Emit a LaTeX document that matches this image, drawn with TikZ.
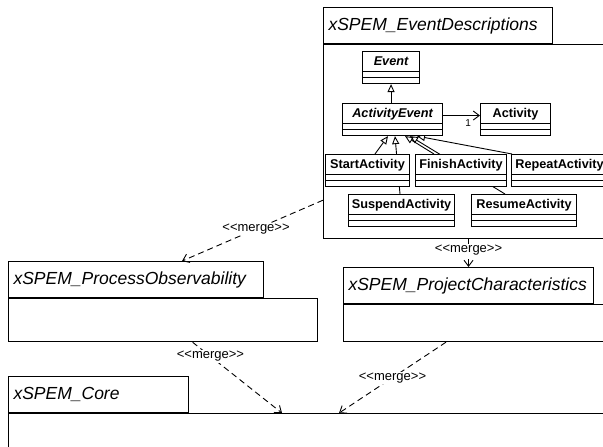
\documentclass[tikz,border=0pt]{standalone}
\usepackage{fontspec}
\setmainfont{Liberation Sans}
\usetikzlibrary{arrows.meta, positioning, calc, backgrounds}

\newcommand{\mergetag}{<\kern0pt<merge>\kern0pt>}

\begin{document}
\begin{tikzpicture}[
    x=1pt, y=-1pt,
    pkgtab/.style={rectangle, draw=black, line width=1.1pt, anchor=north west, minimum height=36pt, inner xsep=5pt, inner ysep=0pt, text width=#1, align=left, font=\fontsize{17.5}{20}\selectfont\itshape},
    pkgbody/.style={rectangle, draw=black, line width=1.1pt, anchor=north west},
    umlclass/.style={rectangle, draw=black, line width=1.1pt, fill=white, anchor=north west, inner sep=0pt, minimum height=32pt, text height=14pt, text depth=18pt, font=\fontsize{12.7}{15}\selectfont\bfseries,
        path picture={
            \draw[line width=1.1pt] ([yshift=6pt]path picture bounding box.south west) -- ([yshift=6pt]path picture bounding box.south east);
            \draw[line width=1.1pt] ([yshift=12pt]path picture bounding box.south west) -- ([yshift=12pt]path picture bounding box.south east);
        }},
    abstract/.style={font=\fontsize{12.7}{15}\selectfont\bfseries\itshape},
    inherit/.style={line width=0.9pt, -{Triangle[open, length=8pt, width=7pt]}},
    assoc/.style={line width=0.9pt, -{Straight Barb[length=6pt, width=9pt]}},
    merge/.style={line width=0.9pt, dash pattern=on 6pt off 4pt, -{Straight Barb[length=6pt, width=9pt]}},
    stereo/.style={fill=white, inner sep=1pt, font=\fontsize{13}{15}\selectfont}
]
\useasboundingbox (0,0) rectangle (603,447);
\clip (0,0) rectangle (603,447);

% Event descriptions package
\node (evtab) [pkgtab=219pt] at (323,7) {xSPEM\_EventDescriptions};
\node (evbody) [pkgbody, minimum width=300pt, minimum height=194pt] at (evtab.south west) {};

\node (event) [umlclass, abstract, minimum width=57pt] at (362,51) {Event};
\node (actev) [umlclass, abstract, minimum width=100pt] at (342,103) {ActivityEvent};
\node (activity) [umlclass, minimum width=70pt] at (480,103) {Activity};
\node (startact) [umlclass, minimum width=84pt] at (325,154) {StartActivity};
\node (finishact) [umlclass, minimum width=91pt] at (415,154) {FinishActivity};
\node (repeatact) [umlclass, minimum width=96pt] at (511,154) {RepeatActivity};
\node (suspact) [umlclass, minimum width=106pt] at (348,194) {SuspendActivity};
\node (resumeact) [umlclass, minimum width=105pt] at (471,194) {ResumeActivity};

% Other packages
\node (obstab) [pkgtab=245pt] at (8,261) {xSPEM\_ProcessObservability};
\node (obsbody) [pkgbody, minimum width=309pt, minimum height=43pt] at (obstab.south west) {};
\node (chartab) [pkgtab=240pt] at (343,267) {xSPEM\_ProjectCharacteristics};
\node (charbody) [pkgbody, minimum width=280pt, minimum height=37pt] at (chartab.south west) {};
\node (coretab) [pkgtab=170pt] at (8,376) {xSPEM\_Core};
\node (corebody) [pkgbody, minimum width=610pt, minimum height=40pt] at (coretab.south west) {};

% Generalizations
\begin{scope}[on background layer]
\draw [inherit] (event.south |- actev.north) -- (event.south);
\draw [inherit] ([xshift=50pt]startact.north west) -- ([xshift=46pt]actev.south west);
\draw [inherit] ([xshift=52pt]suspact.north west) -- ([xshift=53pt]actev.south west);
\draw [inherit] ([xshift=19pt]finishact.north west) -- ([xshift=63pt]actev.south west);
\draw [inherit] ([xshift=34pt]resumeact.north west) -- ([xshift=68pt]actev.south west);
\draw [inherit] ([xshift=1pt]repeatact.north west) -- ([xshift=75pt]actev.south west);
\end{scope}

% Association
\draw [assoc] ([yshift=4pt]actev.east) -- node[pos=0.68, below=3pt, inner sep=1pt, font=\fontsize{10}{12}\selectfont] {1} ([yshift=4pt]activity.west);

% Merges
\draw [merge] ($(evbody.south west)!0.2!(evbody.north west)$) -- node[stereo, pos=0.475] {\mergetag} ([xshift=46pt]obstab.north);
\draw [merge] (evbody.south -| chartab.north) -- node[stereo, pos=0.4] {\mergetag} (chartab.north);
\draw [merge] ([xshift=29.5pt]obsbody.south) -- node[stereo, pos=0.2] {\mergetag} ([xshift=274pt]corebody.north west);
\draw [merge] ([xshift=103pt]charbody.south west) -- node[stereo, pos=0.5] {\mergetag} ([xshift=331pt]corebody.north west);

\end{tikzpicture}
\end{document}
